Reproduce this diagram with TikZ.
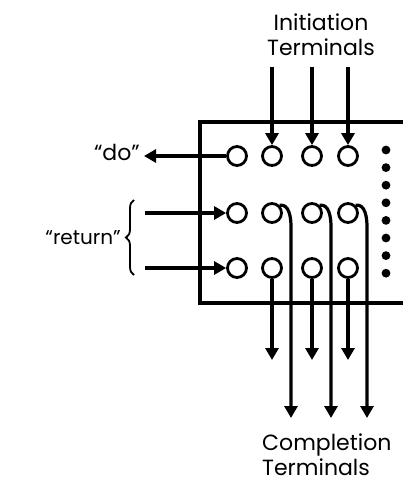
\documentclass[tikz,border=0pt]{standalone}
\usepackage{fontspec}
\newfontfamily\labelfont{Poppins}
\usetikzlibrary{arrows.meta}
\usetikzlibrary{calc}
\usetikzlibrary{decorations.pathreplacing}

\tikzset{
    terminal/.style={circle, draw, line width=2.8pt, minimum size=19pt, inner sep=0pt},
    wire/.style={line width=3.2pt},
    label/.style={font=\labelfont\fontsize{22}{25}\selectfont, inner sep=0pt},
    smalllabel/.style={font=\labelfont\fontsize{20}{25}\selectfont, inner sep=0pt},
}

\begin{document}
\begin{tikzpicture}[x=1pt, y=-1pt, >={Triangle[length=12pt,width=13pt]}]
    \useasboundingbox (0,0) rectangle (403,485);

    % the terminal panel, open on the right
    \draw[wire] (403,122) -- (200,122) -- (200,303) -- (403,303);

    % terminals
    \foreach \i/\y in {1/156, 2/213, 3/268} {
        \foreach \j/\x in {0/237, 1/272, 2/312, 3/348} {
            \node[terminal] (c-\i-\j) at (\x,\y) {};
        }
    }
    \foreach \k in {0,...,7} {
        \fill (386, 150 + \k * 17.6) circle (4.4pt);
    }

    % initiation terminals
    \node[label, align=center] (init) at (321,35) {Initiation\\Terminals};
    \foreach \j/\x in {1/272, 2/312, 3/348} {
        \coordinate (i-\j) at (\x,67);
        \draw[wire, ->] (i-\j) -- (c-1-\j);
    }

    % "do" and "return"
    \coordinate (do) at (144,156);
    \draw[wire, ->] (c-1-0) -- (do);
    \node[label, anchor=east] (dolabel) at (140,152) {“do”};

    \coordinate (r-2) at (145,213);
    \coordinate (r-3) at (145,268);
    \draw[wire, ->] (r-2) -- (c-2-0);
    \draw[wire, ->] (r-3) -- (c-3-0);
    \draw[line width=1.8pt, decoration={brace, amplitude=8pt}, decorate]
        (134,275) -- (134,200);
    \node[smalllabel, anchor=east] (retlabel) at (121,238) {“return”};

    % completion terminals
    \foreach \j/\x in {1/272, 2/312, 3/348} {
        \coordinate (s-\j) at (\x,360);
        \coordinate (l-\j) at (\x+19,418);
        \draw[wire, ->] (c-3-\j) -- (s-\j);
        \draw[wire, ->] (c-2-\j.45) to[out=10, in=90] ($(c-2-\j.center)+(19,14)$) -- (l-\j);
    }
    \node[label, align=left, anchor=west] (comp) at (262,455) {Completion\\Terminals};

\end{tikzpicture}
\end{document}
